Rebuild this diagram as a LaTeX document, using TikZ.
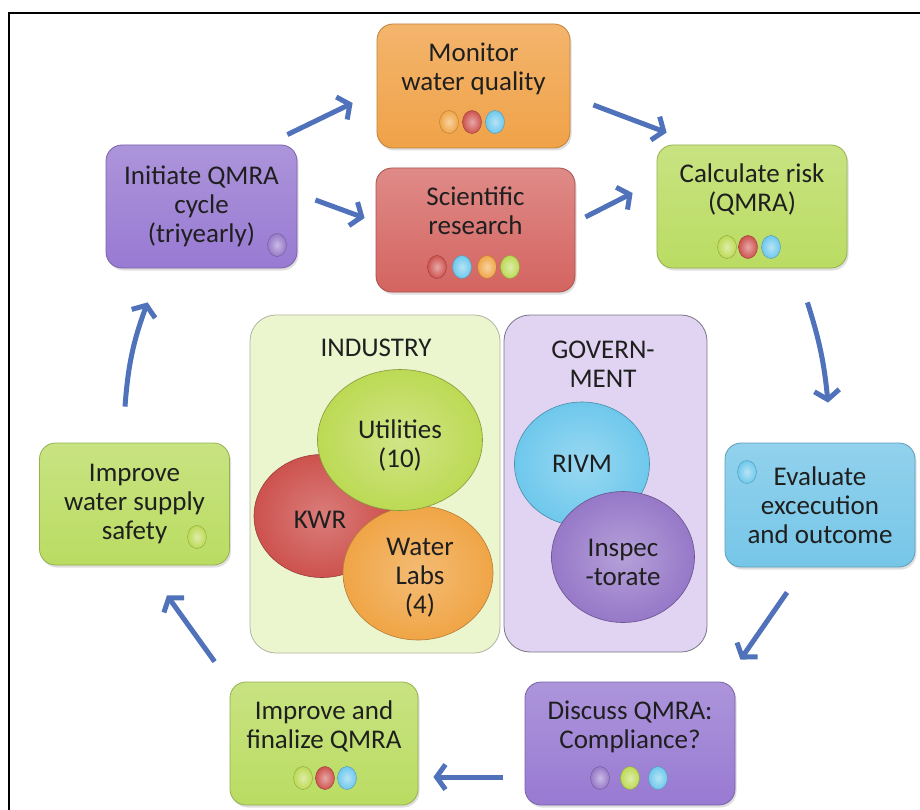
\documentclass[tikz,border=0pt]{standalone}
\usepackage{fontspec}
\setmainfont{Carlito}
\usetikzlibrary{arrows.meta,calc,shadows,shapes.geometric}

\definecolor{stageorange}{RGB}{240,162,72}
\definecolor{stagepurple}{RGB}{152,122,210}
\definecolor{stagered}{RGB}{212,100,96}
\definecolor{stagegreen}{RGB}{186,220,98}
\definecolor{stageblue}{RGB}{118,198,232}
\definecolor{panelgreen}{RGB}{236,246,206}
\definecolor{panelpurple}{RGB}{224,212,242}
\definecolor{flowblue}{RGB}{80,114,186}
\definecolor{dotorange}{RGB}{240,165,70}
\definecolor{dotred}{RGB}{205,82,78}
\definecolor{dotblue}{RGB}{110,200,236}
\definecolor{dotgreen}{RGB}{188,218,84}
\definecolor{dotpurple}{RGB}{150,120,200}

\begin{document}
\begin{tikzpicture}[x=1pt,y=-1pt]
	\tikzstyle{every node}=[align=center, inner sep=1pt, text=black!88, font=\fontsize{27}{29}\selectfont]
	\tikzstyle{stage}=[rectangle, rounded corners=16pt, line width=0.8pt, minimum width=190pt, minimum height=123pt, drop shadow={opacity=0.25, shadow xshift=1.5pt, shadow yshift=-2.5pt}]
	\tikzstyle{panel}=[rectangle, rounded corners=26pt, line width=0.8pt]
	\tikzstyle{actor}=[ellipse, inner sep=0pt, line width=0.6pt]
	\tikzstyle{flow}=[line width=5pt, flowblue, -{Straight Barb[length=9pt, width=25pt]}]
	\tikzset{member/.style={inner color=#1!50!white, outer color=#1, draw=#1!75!black, line width=0.4pt}}

	\fill[white] (0,0) rectangle (920,810);
	\useasboundingbox (0,0) rectangle (920,810);
	\draw[line width=2pt] (9,810) -- (9,13) -- (920,13);

	% the two groups in the middle
	\node[panel, fill=panelgreen, draw=panelgreen!60!black!70, minimum width=250pt, minimum height=338pt] (industry) at (375,484) {};
	\node[panel, fill=panelpurple, draw=panelpurple!55!black, minimum width=203pt, minimum height=337pt] (government) at (605.5,483.5) {};
	\node (industrytitle) at (376,348) {INDUSTRY};
	\node (governmenttitle) at (603,364) {GOVERN-\\MENT};

	\node[actor, inner color=dotred!75!white, outer color=dotred, draw=dotred!75!black, minimum width=136pt, minimum height=123pt] (kwr) at (322,516) {};
	\node[actor, inner color=dotorange!75!white, outer color=dotorange, draw=dotorange!75!black, minimum width=150pt, minimum height=134pt] (labs) at (418,573) {};
	\node[actor, inner color=dotgreen!70!white, outer color=dotgreen, draw=dotgreen!70!black, minimum width=165pt, minimum height=141pt] (utilities) at (400,440) {};
	\node (kwrtext) at (320,520) {KWR};
	\node (labstext) at (420,578) {Water\\Labs\\(4)};
	\node (utilitiestext) at (400,445) {Utilities\\(10)};

	\node[actor, inner color=dotblue!70!white, outer color=dotblue, draw=dotblue!70!black, minimum width=135pt, minimum height=124pt] (rivm) at (582,464) {RIVM};
	\node[actor, inner color=dotpurple!70!white, outer color=dotpurple, draw=dotpurple!70!black, minimum width=143pt, minimum height=131pt] (inspectorate) at (623,557) {};
	\node (inspectext) at (623,562) {Inspec\\-torate};

	% the cycle
	\node[stage, top color=stageorange!80!white, bottom color=stageorange, draw=stageorange!80!black, minimum width=193pt, minimum height=124pt] (monitor) at (473.5,86) {Monitor\\water quality\\\strut};
	\node[stage, top color=stagepurple!80!white, bottom color=stagepurple, draw=stagepurple!80!black, minimum width=191pt] (initiate) at (201.5,206.5) {Initiate QMRA\\cycle\\(triyearly)};
	\node[stage, top color=stagered!75!white, bottom color=stagered, draw=stagered!80!black, minimum width=199pt, minimum height=124pt] (research) at (475.5,230) {Scientific\\research\\\strut};
	\node[stage, top color=stagegreen!80!white, bottom color=stagegreen, draw=stagegreen!80!black] (risk) at (752,206.5) {Calculate risk\\(QMRA)\\\strut};
	\node[stage, top color=stageblue!80!white, bottom color=stageblue, draw=stageblue!80!black, minimum height=124pt] (evaluate) at (820,505) {Evaluate\\excecution\\and outcome};
	\node[stage, top color=stagepurple!80!white, bottom color=stagepurple, draw=stagepurple!80!black, minimum width=210pt] (discuss) at (630,743.5) {Discuss QMRA:\\Compliance?\\\strut};
	\node[stage, top color=stagegreen!80!white, bottom color=stagegreen, draw=stagegreen!80!black, minimum width=188pt] (finalize) at (324,743.5) {Improve and\\finalize QMRA\\\strut};
	\node[stage, top color=stagegreen!80!white, bottom color=stagegreen, draw=stagegreen!80!black, minimum height=122pt] (safety) at (134.5,504) {Improve\\water supply\\safety};

	% who takes part in each step
	\foreach \dx/\col in {449/dotorange, 472/dotred, 495/dotblue}
		\path[member=\col] (\dx,122) ellipse (9.5 and 11.5);
	\foreach \dx/\col in {437/dotred, 462/dotblue, 487/dotorange, 510/dotgreen}
		\path[member=\col] (\dx,267) ellipse (9.5 and 11.5);
	\foreach \dx/\col in {727/dotgreen, 748/dotred, 771/dotblue}
		\path[member=\col] (\dx,247) ellipse (9.5 and 11.5);
	\foreach \dx/\col in {600/dotpurple, 630/dotgreen, 658/dotblue}
		\path[member=\col] (\dx,778) ellipse (9.5 and 11.5);
	\foreach \dx/\col in {303/dotgreen, 325/dotred, 347/dotblue}
		\path[member=\col] (\dx,778) ellipse (9.5 and 11.5);
	\path[member=dotpurple] (277,245) ellipse (9.5 and 11.5);
	\path[member=dotgreen] (197,537) ellipse (9.5 and 11.5);
	\path[member=dotblue] (747,472) ellipse (9.5 and 11.5);

	\draw [flow] ($(initiate.north east)+(-10,-10)$) -- ($(monitor.west)+(-24,17)$);
	\draw [flow] ($(initiate.east)+(18,-6.5)$) -- ($(research.west)+(-11,-12)$);
	\draw [flow] ($(monitor.east)+(23,19)$) -- ($(risk.north west)+(10,-12)$);
	\draw [flow] ($(research.east)+(10,-13)$) -- ($(risk.west)+(-24,-13.5)$);
	\draw [flow] ($(risk.south east)+(-40,34)$) to[bend left=6] ($(evaluate.north)+(8,-40)$);
	\draw [flow] ($(evaluate.south)+(-33,25)$) -- ($(discuss.north east)+(5,-22)$);
	\draw [flow] ($(discuss.west)+(-22,33.5)$) -- ($(finalize.east)+(15,33.5)$);
	\draw [flow] ($(finalize.north west)+(-15,-20)$) -- ($(safety.south)+(32.5,30)$);
	\draw [flow] ($(safety.north)+(-9.5,-36)$) to[bend left=8] ($(initiate.south west)+(42,34)$);
\end{tikzpicture}
\end{document}
